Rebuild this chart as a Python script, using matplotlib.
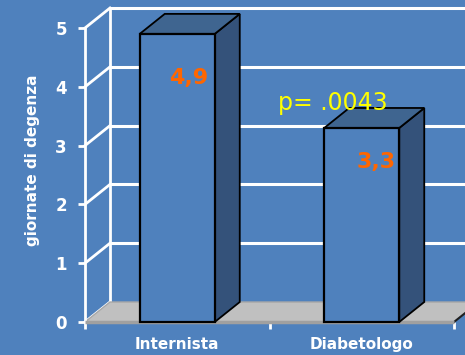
import numpy as np
import matplotlib.pyplot as plt
from matplotlib.patches import Polygon

# degenza media per tipo di specialista
categorie = ["Internista", "Diabetologo"]
giorni = [4.9, 3.3]
etichette = ["4,9", "3,3"]
p_testo = "p= .0043"

bg = "#4F81BD"
fronte = "#4F81BD"
lato = "#34527A"
cima = "#3F6590"
arancio = "#FF6600"

# profondita' finta 3D (in unita' dati)
dx, dy = 0.1355, 0.34
larg = 0.4065

fig = plt.figure(figsize=(4.65, 3.55), dpi=100, facecolor=bg)
ax = fig.add_axes([85 / 465, 33 / 355, 369 / 465, 294 / 355])
ax.set_xlim(0, 2)
ax.set_ylim(0, 5)
ax.patch.set_visible(False)
for s in ["top", "right", "bottom"]:
    ax.spines[s].set_visible(False)
ax.spines["left"].set_color("white")
ax.spines["left"].set_linewidth(2)

# parete di fondo con griglia
xmax = 2 + dx
ax.plot([dx, dx], [dy, 5 + dy], color="white", lw=2, clip_on=False, zorder=2)
for v in range(0, 6):
    ax.plot([0, dx], [v, v + dy], color="white", lw=2, clip_on=False, zorder=2)
    if v > 0:
        ax.plot([dx, xmax], [v + dy, v + dy], color="white", lw=2.2,
                clip_on=False, zorder=2)

# pavimento
pav = Polygon([(0, 0), (2, 0), (2 + dx, dy), (dx, dy)], closed=True,
              facecolor="#C0C0C0", edgecolor="#A8A8A8", lw=1, clip_on=False, zorder=2.5)
ax.add_patch(pav)
ax.plot([2, 2 + dx], [0, dy], color="#202020", lw=1.5, clip_on=False, zorder=2.6)
ax.plot([0, 2], [0, 0], color="#A0A0A0", lw=2.5, clip_on=False, zorder=2.6,
        solid_capstyle="butt")

# barre 3D
xs = np.arange(len(categorie)) + 0.5
for x, v in zip(xs, giorni):
    x0, x1 = x - larg / 2, x + larg / 2
    ax.add_patch(Polygon([(x1, 0), (x1 + dx, dy), (x1 + dx, v + dy), (x1, v)],
                         closed=True, facecolor=lato, edgecolor="black", lw=1.3,
                         clip_on=False, zorder=3))
    ax.add_patch(Polygon([(x0, v), (x1, v), (x1 + dx, v + dy), (x0 + dx, v + dy)],
                         closed=True, facecolor=cima, edgecolor="black", lw=1.3,
                         clip_on=False, zorder=3))
    ax.bar(x, v, width=larg, color=fronte, edgecolor="black", lw=1.6,
           zorder=4, clip_on=False)

# etichette valori
dy_lab = [-0.75, -0.58]
dx_lab = [0.06, 0.08]
for x, v, t, a, b in zip(xs, giorni, etichette, dx_lab, dy_lab):
    ax.text(x + a, v + b, t, color=arancio, fontsize=16, fontweight="bold",
            ha="center", va="center", zorder=5)

ax.text(1.344, 3.72, p_testo, color="#FFFF00", fontsize=17, ha="center",
        va="center", zorder=5)

# assi
ax.set_yticks(range(0, 6))
ax.tick_params(axis="y", colors="white", length=5, width=2, pad=8,
               labelsize=12)
for lab in ax.get_yticklabels():
    lab.set_fontweight("bold")
ax.set_xticks([0, 1, 2])
ax.set_xticklabels([])
ax.tick_params(axis="x", which="major", colors="white", length=5, width=2)
ax.set_xticks(xs, minor=True)
ax.set_xticklabels(categorie, minor=True, color="white", fontsize=11,
                   fontweight="bold")
ax.tick_params(axis="x", which="minor", length=0, pad=11)

fig.text(33 / 465, 1 - 160 / 355, "giornate di degenza", rotation=90,
         color="white", fontsize=11, fontweight="bold", ha="center", va="center")

fig.savefig("out.png", dpi=100, facecolor=bg)
